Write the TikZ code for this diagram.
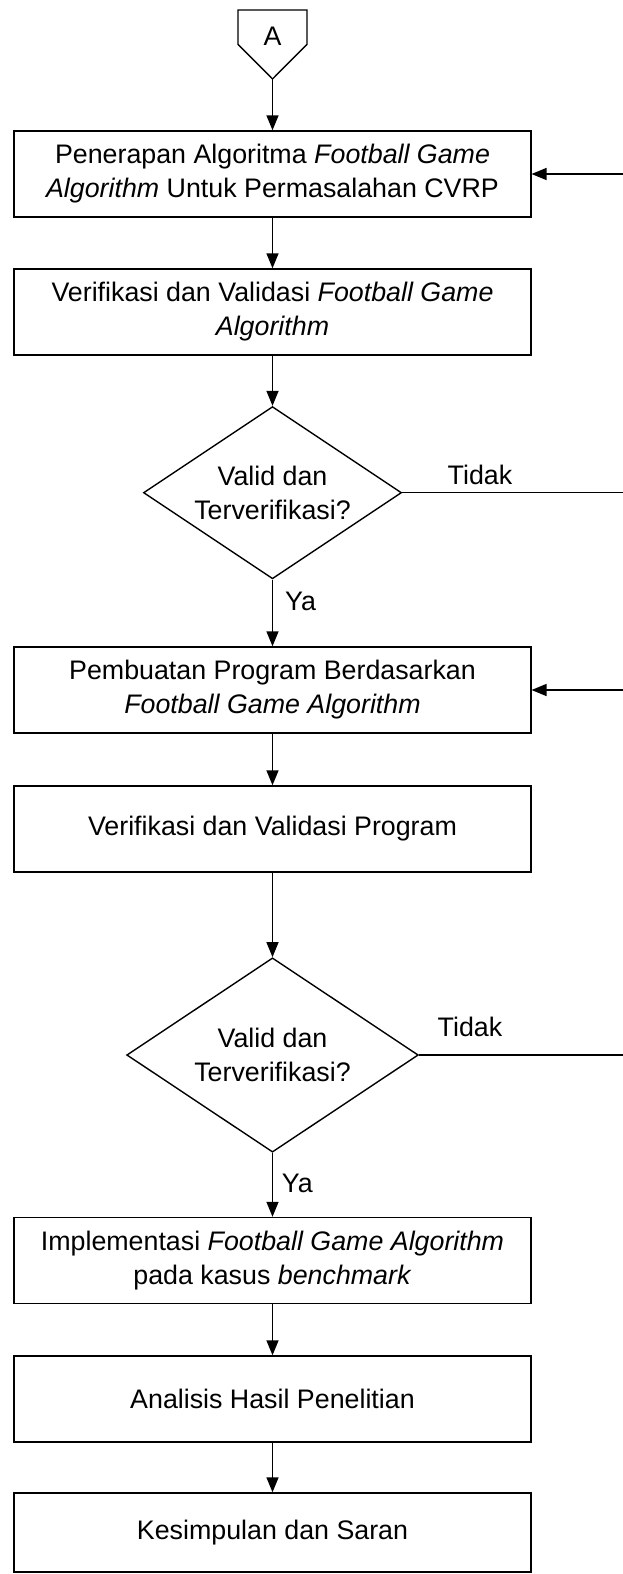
\documentclass[tikz,border=0pt]{standalone}
\usepackage{fontspec}
\setmainfont{Liberation Sans}
\usetikzlibrary{arrows.meta,shapes.geometric}
\begin{document}
\begin{tikzpicture}[x=1pt,y=-1pt,
  every node/.style={font=\fontsize{26.8}{34}\selectfont},
  box/.style={draw, line width=1.4pt, minimum width=516.7pt, minimum height=86pt, inner sep=0pt, align=center},
  dec/.style={draw, diamond, shape aspect=1.5, line width=1.4pt, inner sep=0pt, align=center},
  arr/.style={line width=1.4pt, -{Triangle[length=15pt,width=12pt]}},
  ln/.style={line width=1.4pt},
  lbl/.style={inner sep=0pt}]
\useasboundingbox (0,0) rectangle (623,1574);

% off-page connector A
\draw[ln, line join=miter] (238,10) -- (307,10) -- (307,44.3) -- (272.5,79) -- (238,44.3) -- cycle;
\node[lbl] (A) at (272.5,36.7) {A};
\coordinate (Atip) at (272.5,79);

% process boxes
\node[box] (b1) at (272.5,174) {Penerapan Algoritma \textit{Football Game}\\\textit{Algorithm} Untuk Permasalahan CVRP};
\node[box] (b2) at (272.5,312) {Verifikasi dan Validasi \textit{Football Game}\\\textit{Algorithm}};
\node[dec, minimum width=258pt, minimum height=172.3pt] (d1) at (272.5,492.7) {Valid dan\\Terverifikasi?};
\node[box] (b3) at (272.5,690) {Pembuatan Program Berdasarkan\\\textit{Football Game Algorithm}};
\node[box] (b4) at (272.5,829) {Verifikasi dan Validasi Program};
\node[dec, minimum width=291.6pt, minimum height=194.3pt] (d2) at (272.5,1055) {Valid dan\\Terverifikasi?};
\node[box] (b5) at (272.5,1260.5) {Implementasi \textit{Football Game Algorithm}\\pada kasus \textit{benchmark}};
\node[box] (b6) at (272.5,1399) {Analisis Hasil Penelitian};
\node[box, minimum height=79pt] (b7) at (272.5,1532.5) {Kesimpulan dan Saran};

% right-edge ends
\coordinate (r1) at (623,174);
\coordinate (r2) at (623,492.7);
\coordinate (r3) at (623,690);
\coordinate (r4) at (623,1055);

% connectors
\draw[arr] (Atip) -- (b1);
\draw[arr] (b1) -- (b2);
\draw[arr] (b2) -- (d1);
\draw[arr] (d1) -- (b3);
\draw[arr] (b3) -- (b4);
\draw[arr] (b4) -- (d2);
\draw[arr] (d2) -- (b5);
\draw[arr] (b5) -- (b6);
\draw[arr] (b6) -- (b7);
\draw[ln] (d1.east) -- (r2);
\draw[ln] (d2.east) -- (r4);
\draw[arr] (r1) -- (b1.east);
\draw[arr] (r3) -- (b3.east);

% labels
\node[lbl] (t1) at (480,475) {Tidak};
\node[lbl] (t2) at (470,1026.7) {Tidak};
\node[lbl, anchor=west] (y1) at (285,601.7) {Ya};
\node[lbl, anchor=west] (y2) at (281.7,1183) {Ya};
\end{tikzpicture}
\end{document}
